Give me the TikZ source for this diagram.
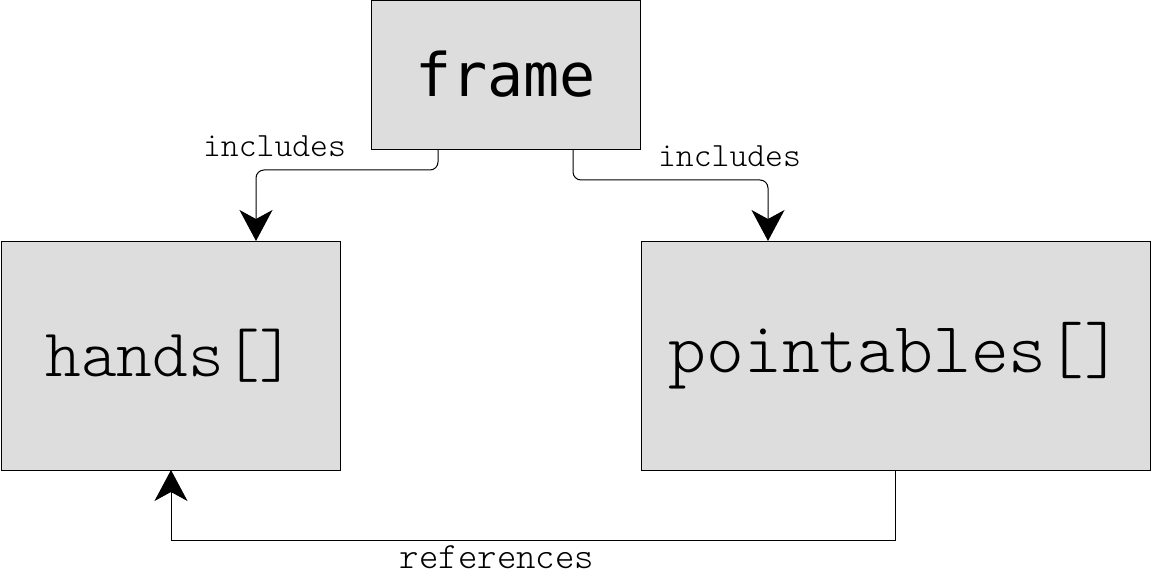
\documentclass[tikz,border=0pt]{standalone}
\usepackage{fontspec}
\newfontfamily\djmfont{DejaVu Sans Mono}
\newfontfamily\lightmono{Latin Modern Mono Light}
\usetikzlibrary{arrows.meta}
\definecolor{boxgray}{HTML}{DDDDDD}
\begin{document}
\begin{tikzpicture}[x=1pt,y=-1pt,
  box/.style={draw=black, line width=1pt, fill=boxgray, inner sep=0pt, outer sep=0pt},
  conn/.style={draw=black, line width=1pt, -{Stealth[length=31pt,width=33pt,inset=9pt]}},
  lbl/.style={font=\lightmono\fontsize{34}{40}\selectfont, anchor=base, inner sep=0pt}]
\useasboundingbox (0,0) rectangle (1151,580);
\node[box, minimum width=269pt, minimum height=149pt, font=\djmfont\fontsize{60}{72}\selectfont] (frame) at (505.5,75.5) {\raisebox{3pt}{frame}};
\node[box, minimum width=339pt, minimum height=229pt, font=\lightmono\fontsize{68}{80}\selectfont] (hands) at (170.5,355.5) {\raisebox{2pt}{hands[]}};
\node[box, minimum width=509pt, minimum height=229pt, font=\lightmono\fontsize{72}{84}\selectfont] (pointables) at (895.5,355.5) {pointables[]};
\draw[conn, rounded corners=8pt] ([xshift=-67.5pt]frame.south) -- ++(0,20) -| ([xshift=85.5pt]hands.north);
\draw[conn, rounded corners=8pt] ([xshift=67.5pt]frame.south) -- ++(0,30) -| ([xshift=-127.5pt]pointables.north);
\draw[conn] (pointables.south) -- ++(0,70) -| ([xshift=0.5pt]hands.south);
\node[lbl] (l1) at (274.5,157) {includes};
\node[lbl] (l2) at (729.5,167) {includes};
\node[lbl, font=\lightmono\fontsize{37}{44}\selectfont] (l3) at (497,568) {references};
\end{tikzpicture}
\end{document}
